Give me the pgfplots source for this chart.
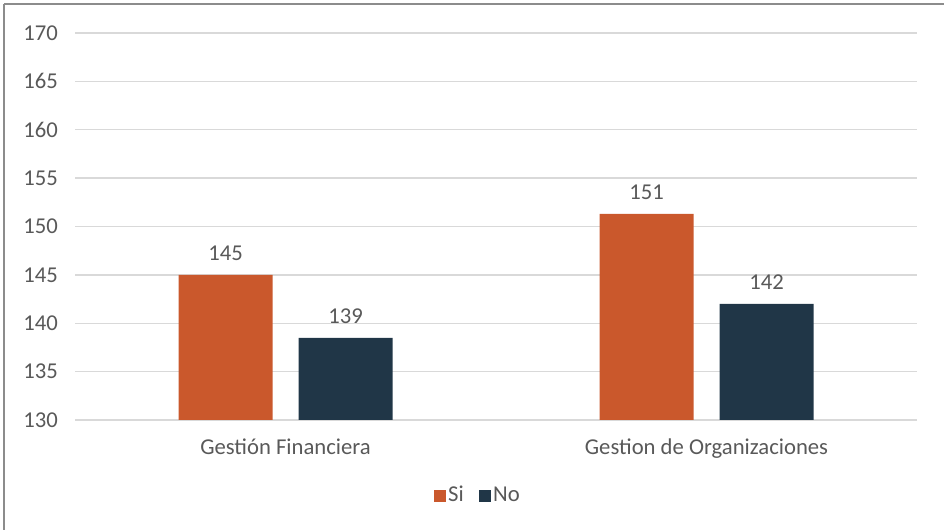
\documentclass[border=0pt]{standalone}
\usepackage{pgfplots}
\pgfplotsset{compat=1.18}
\usepackage{fontspec}
\setmainfont{Carlito}

\definecolor{siorange}{HTML}{CA582C}
\definecolor{nonavy}{HTML}{203647}
\definecolor{txtgray}{HTML}{595959}
\definecolor{gridgray}{HTML}{D9D9D9}
\definecolor{framegray}{HTML}{8C8C8C}

\begin{document}
\fontsize{17}{20}\selectfont
\begin{tikzpicture}
\useasboundingbox (0pt,0pt) rectangle (708pt,397.5pt);
% outer frame: top and left edges only
\draw[framegray,line width=1.2pt] (3pt,394.5pt) -- (708pt,394.5pt);
\draw[framegray,line width=1.2pt] (3pt,394.5pt) -- (3pt,0pt);

\begin{axis}[
    at={(56.25pt,82.5pt)}, anchor=south west,
    scale only axis,
    width=631.5pt, height=290.25pt,
    ybar=19.5pt, bar width=70.5pt,
    xmin=-0.5, xmax=1.5,
    ymin=130, ymax=170,
    ytick={130,135,...,170},
    xtick=data,
    xticklabels={Gestión Financiera, Gestion de Organizaciones},
    axis line style={draw=none},
    major tick length=0pt,
    ymajorgrids=true,
    grid style={gridgray,line width=1.1pt},
    /pgf/number format/assume math mode=true,
    tick label style={font=\fontsize{17}{20}\selectfont, text=txtgray},
    yticklabel style={xshift=-7pt},
    xticklabel style={yshift=-8pt},
    nodes near coords,
    point meta=explicit symbolic,
    nodes near coords style={font=\fontsize{17}{20}\selectfont, text=txtgray, yshift=5pt},
    legend style={at={(0.4786,-0.196)}, anchor=center, draw=none,
        font=\fontsize{17}{20}\selectfont, text=txtgray,
        /tikz/every even column/.append style={column sep=9pt}},
    legend columns=2,
    legend image code/.code={\fill[#1] (0pt,-4.5pt) rectangle (9pt,4.5pt);},
]
\addplot[fill=siorange, draw=none] coordinates {(0,145) [145] (1,151.3) [151]};
\addlegendentry{Si}
\addplot[fill=nonavy, draw=none] coordinates {(0,138.5) [139] (1,142) [142]};
\addlegendentry{No}
\end{axis}
\end{tikzpicture}
\end{document}
